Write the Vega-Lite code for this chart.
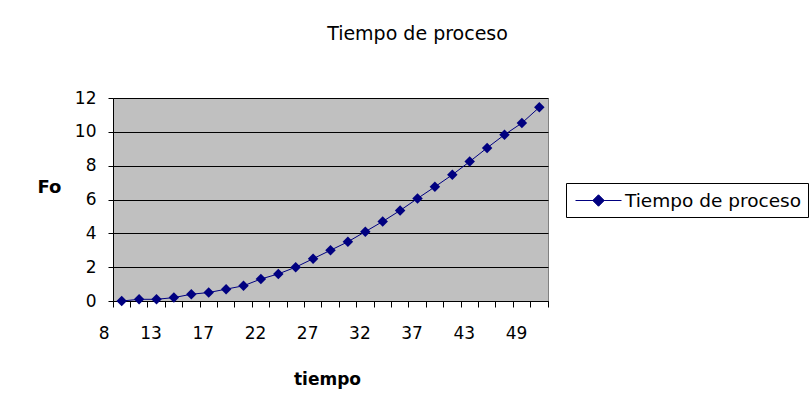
{
  "$schema": "https://vega.github.io/schema/vega-lite/v6.json",
  "width": 435,
  "height": 203,
  "autosize": {"type": "none"},
  "padding": {"left": 113, "top": 98, "right": 263, "bottom": 115},
  "background": "white",
  "title": {
    "text": "Tiempo de proceso",
    "anchor": "middle",
    "frame": "group",
    "dx": 87,
    "offset": 45,
    "font": "DejaVu Sans",
    "fontSize": 19,
    "fontWeight": "normal",
    "color": "black"
  },
  "data": {
    "values": [
      {"t": 8, "Fo": 0},
      {"t": 10, "Fo": 0.1},
      {"t": 11, "Fo": 0.1},
      {"t": 13, "Fo": 0.2},
      {"t": 14, "Fo": 0.4},
      {"t": 16, "Fo": 0.5},
      {"t": 17, "Fo": 0.7},
      {"t": 19, "Fo": 0.9},
      {"t": 20, "Fo": 1.3},
      {"t": 22, "Fo": 1.6},
      {"t": 24, "Fo": 2.0},
      {"t": 25, "Fo": 2.5},
      {"t": 27, "Fo": 3.0},
      {"t": 29, "Fo": 3.5},
      {"t": 30, "Fo": 4.1},
      {"t": 32, "Fo": 4.7},
      {"t": 34, "Fo": 5.35},
      {"t": 35, "Fo": 6.06},
      {"t": 37, "Fo": 6.75},
      {"t": 39, "Fo": 7.46},
      {"t": 41, "Fo": 8.24},
      {"t": 43, "Fo": 9.05},
      {"t": 45, "Fo": 9.83},
      {"t": 47, "Fo": 10.52},
      {"t": 49, "Fo": 11.45}
    ]
  },
  "mark": {
    "type": "line",
    "strokeWidth": 1,
    "point": {"shape": "diamond", "filled": true, "size": 110}
  },
  "encoding": {
    "x": {
      "field": "t",
      "type": "ordinal",
      "scale": {"type": "band", "paddingInner": 0, "paddingOuter": 0},
      "axis": {
        "title": "tiempo",
        "titleFont": "DejaVu Sans",
        "titleFontSize": 17,
        "titleFontWeight": "bold",
        "titleColor": "black",
        "titleX": 214,
        "titleY": 83,
        "titleAlign": "center",
        "titleBaseline": "alphabetic",
        "labelAngle": 0,
        "labelAlign": "right",
        "labelOffset": -12,
        "labelBaseline": "top",
        "labelPadding": 18,
        "labelFont": "DejaVu Sans",
        "labelFontSize": 17,
        "labelColor": "black",
        "labelOverlap": false,
        "labelExpr": "indexof([8,13,17,22,27,32,37,43,49], datum.value) >= 0 ? datum.label : ''",
        "bandPosition": 1,
        "tickExtra": true,
        "ticks": true,
        "tickSize": 6,
        "tickWidth": 1,
        "tickColor": "black",
        "domainColor": "black",
        "grid": false
      }
    },
    "y": {
      "field": "Fo",
      "type": "quantitative",
      "scale": {"domain": [0, 12], "nice": false},
      "axis": {
        "title": "Fo",
        "titleAngle": 0,
        "titleAlign": "center",
        "titleBaseline": "alphabetic",
        "titleX": -64,
        "titleY": 94,
        "titleFont": "DejaVu Sans",
        "titleFontSize": 18,
        "titleFontWeight": "bold",
        "titleColor": "black",
        "values": [0, 2, 4, 6, 8, 10, 12],
        "grid": true,
        "gridColor": "black",
        "gridOpacity": 1,
        "gridWidth": 1,
        "tickSize": 5,
        "tickColor": "black",
        "domainColor": "black",
        "labelPadding": 12,
        "labelFont": "DejaVu Sans",
        "labelFontSize": 17,
        "labelColor": "black"
      }
    },
    "color": {
      "datum": "Tiempo de proceso",
      "scale": {"range": ["#000080"]},
      "legend": {
        "orient": "none",
        "legendX": 453,
        "legendY": 85,
        "title": null,
        "strokeColor": "black",
        "fillColor": "white",
        "padding": 7,
        "labelFont": "DejaVu Sans",
        "labelFontSize": 18.5,
        "labelColor": "black",
        "labelLimit": 0,
        "labelOffset": 16,
        "symbolOffset": 15,
        "symbolType": "M-2.3,0L2.3,0M0,-0.575L0.575,0L0,0.575L-0.575,0Z",
        "symbolSize": 400,
        "symbolStrokeWidth": 1,
        "symbolFillColor": "#000080",
        "symbolStrokeColor": "#000080"
      }
    }
  },
  "config": {
    "view": {"fill": "#C0C0C0", "stroke": "#808080", "strokeWidth": 1}
  }
}
